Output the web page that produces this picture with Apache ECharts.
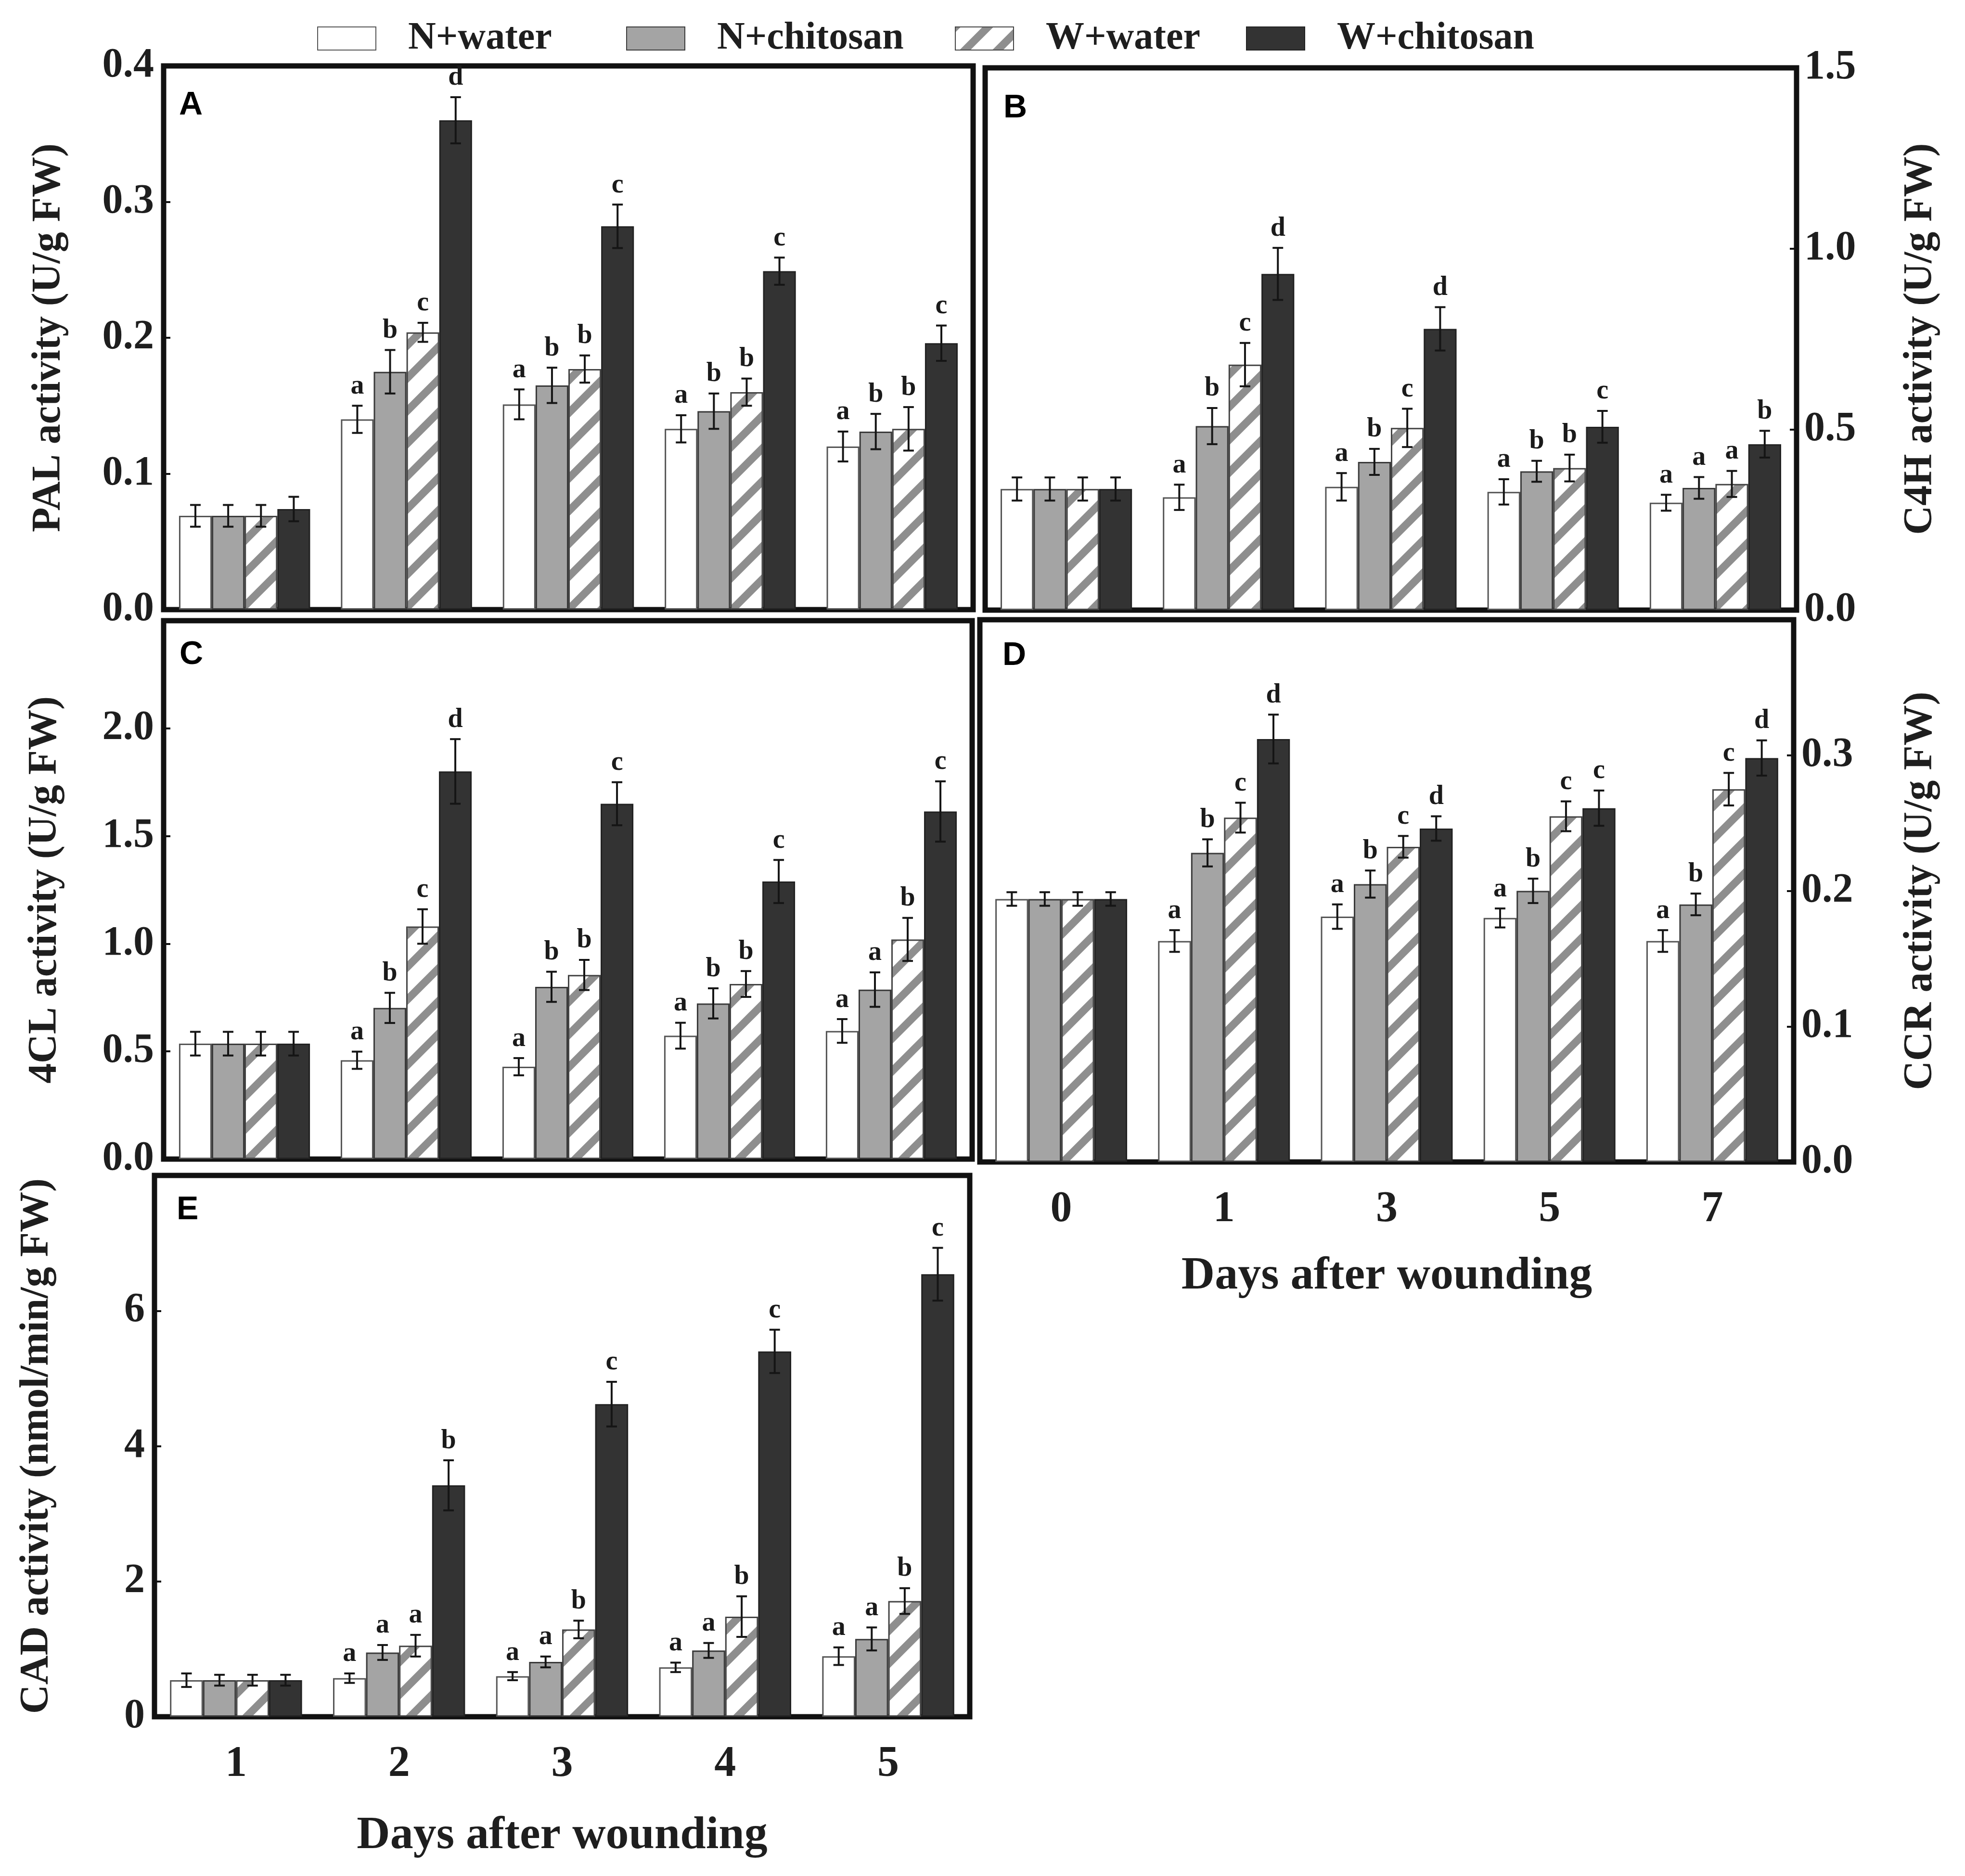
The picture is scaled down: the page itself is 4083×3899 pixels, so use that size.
<!DOCTYPE html>
<html>
<head>
<meta charset="utf-8">
<script src="https://cdn.jsdelivr.net/npm/echarts@6/dist/echarts.min.js"></script>
<style>
  html, body { margin: 0; padding: 0; background: #fff; }
  #main { width: 4083px; height: 3899px; }
</style>
</head>
<body>
<div id="main"></div>
<script>
var treatments = ['N+water', 'N+chitosan', 'W+water', 'W+chitosan'];
var days = ['0', '1', '3', '5', '7'];
var daysE = ['1', '2', '3', '4', '5'];

// A - PAL
var palNW = [0.069, 0.140, 0.151, 0.133, 0.120];
var palNC = [0.069, 0.175, 0.165, 0.146, 0.131];
var palWW = [0.069, 0.204, 0.177, 0.160, 0.133];
var palWC = [0.074, 0.360, 0.282, 0.249, 0.196];
var palErrNW = [0.008, 0.010, 0.011, 0.010, 0.011];
var palErrNC = [0.008, 0.016, 0.013, 0.013, 0.013];
var palErrWW = [0.008, 0.007, 0.010, 0.010, 0.016];
var palErrWC = [0.009, 0.017, 0.016, 0.010, 0.013];
var palSig = [['', 'a', 'a', 'a', 'a'], ['', 'b', 'b', 'b', 'b'], ['', 'c', 'b', 'b', 'b'], ['', 'd', 'c', 'c', 'c']];

// B - C4H
var c4hNW = [0.335, 0.312, 0.341, 0.327, 0.297];
var c4hNC = [0.335, 0.509, 0.410, 0.384, 0.338];
var c4hWW = [0.335, 0.679, 0.504, 0.393, 0.349];
var c4hWC = [0.335, 0.930, 0.778, 0.507, 0.459];
var c4hErrNW = [0.032, 0.035, 0.038, 0.035, 0.022];
var c4hErrNC = [0.032, 0.050, 0.036, 0.029, 0.030];
var c4hErrWW = [0.032, 0.060, 0.053, 0.037, 0.036];
var c4hErrWC = [0.032, 0.072, 0.060, 0.044, 0.037];
var c4hSig = [['', 'a', 'a', 'a', 'a'], ['', 'b', 'b', 'b', 'a'], ['', 'c', 'c', 'b', 'a'], ['', 'd', 'd', 'c', 'b']];

// C - 4CL
var clNW = [0.536, 0.459, 0.429, 0.573, 0.595];
var clNC = [0.536, 0.702, 0.800, 0.723, 0.787];
var clWW = [0.536, 1.080, 0.855, 0.813, 1.020];
var clWC = [0.536, 1.800, 1.650, 1.289, 1.614];
var clErrNW = [0.055, 0.040, 0.040, 0.060, 0.055];
var clErrNC = [0.055, 0.070, 0.070, 0.070, 0.080];
var clErrWW = [0.055, 0.080, 0.070, 0.060, 0.100];
var clErrWC = [0.055, 0.150, 0.100, 0.100, 0.140];
var clSig = [['', 'a', 'a', 'a', 'a'], ['', 'b', 'b', 'b', 'a'], ['', 'c', 'b', 'b', 'b'], ['', 'd', 'c', 'c', 'c']];

// D - CCR
var ccrNW = [0.194, 0.163, 0.181, 0.180, 0.163];
var ccrNC = [0.194, 0.228, 0.205, 0.200, 0.190];
var ccrWW = [0.194, 0.254, 0.2325, 0.255, 0.275];
var ccrWC = [0.194, 0.312, 0.246, 0.261, 0.298];
var ccrErrNW = [0.005, 0.008, 0.009, 0.007, 0.008];
var ccrErrNC = [0.005, 0.010, 0.010, 0.009, 0.008];
var ccrErrWW = [0.005, 0.011, 0.008, 0.011, 0.012];
var ccrErrWC = [0.005, 0.018, 0.009, 0.013, 0.013];
var ccrSig = [['', 'a', 'a', 'a', 'a'], ['', 'b', 'b', 'b', 'b'], ['', 'c', 'c', 'c', 'c'], ['', 'd', 'd', 'c', 'd']];

// E - CAD
var cadNW = [0.54, 0.57, 0.60, 0.73, 0.895];
var cadNC = [0.54, 0.95, 0.81, 0.98, 1.15];
var cadWW = [0.54, 1.05, 1.29, 1.48, 1.71];
var cadWC = [0.54, 3.42, 4.62, 5.40, 6.54];
var cadErrNW = [0.10, 0.07, 0.06, 0.07, 0.13];
var cadErrNC = [0.08, 0.11, 0.08, 0.11, 0.17];
var cadErrWW = [0.08, 0.16, 0.13, 0.30, 0.19];
var cadErrWC = [0.08, 0.37, 0.33, 0.32, 0.39];
var cadSig = [['', 'a', 'a', 'a', 'a'], ['', 'a', 'a', 'a', 'a'], ['', 'a', 'b', 'b', 'b'], ['', 'b', 'c', 'c', 'c']];

var SERIF = '"Liberation Serif", "Times New Roman", serif';
var SANS = '"Liberation Sans", Arial, sans-serif';
var GAP = 0.19;

// hatch fill for W+water
var hatch = document.createElement('canvas');
hatch.width = 68; hatch.height = 68;
var hctx = hatch.getContext('2d');
hctx.fillStyle = '#ffffff';
hctx.fillRect(0, 0, 68, 68);
hctx.strokeStyle = '#8e8e8e';
hctx.lineWidth = 16;
hctx.beginPath();
hctx.moveTo(-20, 20); hctx.lineTo(20, -20);
hctx.moveTo(-10, 78); hctx.lineTo(78, -10);
hctx.moveTo(48, 88); hctx.lineTo(88, 48);
hctx.stroke();

var styles = [
  { color: '#ffffff', borderColor: '#555555', borderWidth: 3 },
  { color: '#a4a4a4', borderColor: '#3a3a3a', borderWidth: 3 },
  { color: { image: hatch, repeat: 'repeat' }, borderColor: '#444444', borderWidth: 3 },
  { color: '#333333', borderColor: '#222222', borderWidth: 3 }
];

var panels = [
  { tag: 'A', cats: days, vals: [palNW, palNC, palWW, palWC], errs: [palErrNW, palErrNC, palErrWW, palErrWC], sig: palSig,
    max: 0.4, step: 0.1, dec: 1, showMax: true, name: 'PAL activity (U/g FW)', pos: 'left', gap: 196, xLab: false,
    grid: { left: 340, top: 137, width: 1682, height: 1130 }, tagAt: [367, 180] },
  { tag: 'B', cats: days, vals: [c4hNW, c4hNC, c4hWW, c4hWC], errs: [c4hErrNW, c4hErrNC, c4hErrWW, c4hErrWC], sig: c4hSig,
    max: 1.5, step: 0.5, dec: 1, showMax: true, name: 'C4H activity (U/g FW)', pos: 'right', gap: 216, xLab: false,
    grid: { left: 2047, top: 141, width: 1686, height: 1127 }, tagAt: [2080, 186] },
  { tag: 'C', cats: days, vals: [clNW, clNC, clWW, clWC], errs: [clErrNW, clErrNC, clErrWW, clErrWC], sig: clSig,
    max: 2.5, step: 0.5, dec: 1, showMax: false, name: '4CL activity (U/g FW)', pos: 'left', gap: 204, xLab: false,
    grid: { left: 340, top: 1290, width: 1680, height: 1119 }, tagAt: [368, 1322] },
  { tag: 'D', cats: days, vals: [ccrNW, ccrNC, ccrWW, ccrWC], errs: [ccrErrNW, ccrErrNC, ccrErrWW, ccrErrWC], sig: ccrSig,
    max: 0.4, step: 0.1, dec: 1, showMax: false, name: 'CCR activity (U/g FW)', pos: 'right', gap: 222, xLab: true,
    grid: { left: 2036, top: 1288, width: 1691, height: 1127 }, tagAt: [2078, 1324], xGap: 190 },
  { tag: 'E', cats: daysE, vals: [cadNW, cadNC, cadWW, cadWC], errs: [cadErrNW, cadErrNC, cadErrWW, cadErrWC], sig: cadSig,
    max: 8, step: 2, dec: 0, showMax: false, name: 'CAD activity (nmol/min/g FW)', pos: 'left', gap: 202, xLab: true,
    grid: { left: 321, top: 2443, width: 1694, height: 1125 }, tagAt: [362, 2476], xGap: 200 }
];

function errRenderer(k, sig) {
  return function (params, api) {
    var i = api.value(0), v = api.value(1), e = api.value(2);
    var base = api.coord([i, v]);
    var bw = api.size([1, 0])[0] * (1 - GAP) / 4;
    var x = base[0] + (k - 1.5) * bw;
    var yt = api.coord([i, v + e])[1];
    var yb = api.coord([i, v - e])[1];
    var ls = { stroke: '#151515', lineWidth: 4 };
    var kids = [
      { type: 'line', shape: { x1: x, y1: yt, x2: x, y2: yb }, style: ls },
      { type: 'line', shape: { x1: x - 11, y1: yt, x2: x + 11, y2: yt }, style: ls },
      { type: 'line', shape: { x1: x - 11, y1: yb, x2: x + 11, y2: yb }, style: ls }
    ];
    var t = sig[params.dataIndex];
    if (t) {
      kids.push({ type: 'text', style: { text: t, x: x, y: yt - 12, align: 'center', verticalAlign: 'bottom',
        fontSize: 56, fontWeight: 'bold', fontFamily: SERIF, fill: '#1a1a1a' } });
    }
    return { type: 'group', children: kids };
  };
}

var option = {
  animation: false,
  backgroundColor: '#ffffff',
  grid: [], xAxis: [], yAxis: [], series: [], title: [],
  legend: []
};

var legendLeft = [654, 1296, 1979, 2584];
treatments.forEach(function (t, k) {
  option.legend.push({
    data: [{ name: t, icon: 'rect' }], left: legendLeft[k], top: 35, itemWidth: 121, itemHeight: 48,
    textStyle: { fontSize: 80, fontWeight: 'bold', fontFamily: SERIF, color: '#1e1e1e', padding: [0, 0, 0, 62] }
  });
});

panels.forEach(function (p, g) {
  option.grid.push({ left: p.grid.left, top: p.grid.top, width: p.grid.width, height: p.grid.height,
    show: true, borderColor: '#111111', borderWidth: 11, backgroundColor: 'transparent' });
  option.xAxis.push({
    type: 'category', gridIndex: g, data: p.cats,
    axisLine: { show: false }, axisTick: { show: false },
    axisLabel: { show: p.xLab, fontSize: 90, fontWeight: 'bold', fontFamily: SERIF, color: '#1e1e1e', margin: 55 },
    name: p.xLab ? 'Days after wounding' : '', nameLocation: 'middle', nameGap: p.xGap || 0,
    nameTextStyle: { fontSize: 96, fontWeight: 'bold', fontFamily: SERIF, color: '#1e1e1e' }
  });
  option.yAxis.push({
    type: 'value', gridIndex: g, position: p.pos, min: 0, max: p.max, interval: p.step,
    splitLine: { show: false },
    axisLine: { show: false },
    axisTick: { show: true, inside: true, length: 14, lineStyle: { color: '#111', width: 4 } },
    axisLabel: { fontSize: 86, fontWeight: 'bold', fontFamily: SERIF, color: '#1e1e1e',
      margin: p.pos === 'left' ? 20 : 16, showMaxLabel: p.showMax,
      formatter: function (v) { return v.toFixed(p.dec); } },
    name: p.name, nameLocation: 'middle', nameGap: p.gap, nameRotate: 90,
    nameTextStyle: { fontSize: 84, fontWeight: 'bold', fontFamily: SERIF, color: '#1e1e1e' }
  });
  option.title.push({ text: p.tag, left: p.tagAt[0], top: p.tagAt[1],
    textStyle: { fontSize: 68, fontWeight: 'bold', fontFamily: SANS, color: '#000' } });
  for (var k = 0; k < 4; k++) {
    option.series.push({
      name: treatments[k], type: 'bar', xAxisIndex: g, yAxisIndex: g,
      data: p.vals[k], barGap: '0%', barCategoryGap: (GAP * 100) + '%',
      itemStyle: styles[k], z: 2
    });
  }
  for (var k2 = 0; k2 < 4; k2++) {
    var pts = p.vals[k2].map(function (v, i) { return [i, v, p.errs[k2][i]]; });
    option.series.push({
      type: 'custom', xAxisIndex: g, yAxisIndex: g, z: 4,
      renderItem: errRenderer(k2, p.sig[k2]),
      encode: { x: 0, y: 1 },
      data: pts
    });
  }
});

var chart = echarts.init(document.getElementById('main'));
chart.setOption(option);
</script>
</body>
</html>
